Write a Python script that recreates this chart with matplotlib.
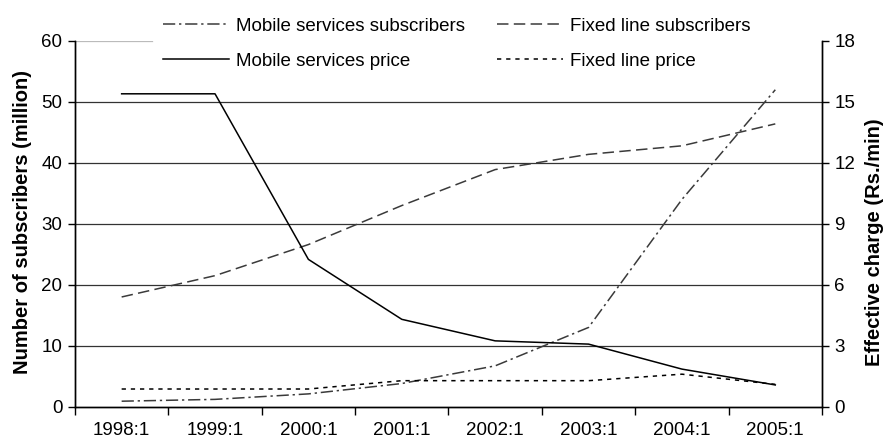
import matplotlib

matplotlib.use("Agg")
import matplotlib.pyplot as plt
import numpy as np

plt.rcParams["font.family"] = ["Liberation Sans", "DejaVu Sans"]

# Data.
periods = ["1998:1", "1999:1", "2000:1", "2001:1", "2002:1", "2003:1", "2004:1", "2005:1"]
mobile_subscribers = [0.9, 1.2, 2.1, 3.8, 6.7, 13.0, 34.0, 52.0]  # million
fixed_subscribers = [18.0, 21.5, 26.6, 33.0, 38.9, 41.4, 42.8, 46.4]  # million
mobile_price = [15.4, 15.4, 7.25, 4.3, 3.24, 3.08, 1.85, 1.07]  # Rs./min
fixed_price = [0.87, 0.87, 0.87, 1.28, 1.28, 1.28, 1.6, 1.1]  # Rs./min

left_ticks = [0, 10, 20, 30, 40, 50, 60]
right_ticks = [0, 3, 6, 9, 12, 15, 18]

FONT = 13.5
LABEL_FONT = 14.5


def main():
    fig = plt.figure(figsize=(8.85, 4.45), dpi=100)
    ax = fig.add_axes([0.0847, 0.0861, 0.8441, 0.8218])
    ax2 = ax.twinx()

    x = np.arange(len(periods)) + 0.5

    # Horizontal grid on the left axis; the top one is mostly hidden by the legend box.
    for v in left_ticks[1:-1]:
        ax.axhline(v, color="#333333", linewidth=0.9, zorder=0)
    ax.axhline(left_ticks[-1], xmin=0, xmax=0.103, color="#bbbbbb", linewidth=0.9, zorder=0)

    l1, = ax.plot(x, mobile_subscribers, color="#3a3a3a", linewidth=1.1,
                  dashes=(8, 2.5, 1.5, 2.5), label="Mobile services subscribers")
    l3, = ax.plot(x, fixed_subscribers, color="#3a3a3a", linewidth=1.1,
                  dashes=(7.5, 3.5), label="Fixed line subscribers")
    l2, = ax2.plot(x, mobile_price, color="black", linewidth=1.1,
                   label="Mobile services price")
    l4, = ax2.plot(x, fixed_price, color="black", linewidth=1.1,
                   dashes=(2.8, 3.2), label="Fixed line price")

    # Axes limits and ticks.
    ax.set_xlim(0, len(periods))
    ax.set_ylim(0, 60)
    ax2.set_ylim(0, 18)
    ax.set_yticks(left_ticks)
    ax2.set_yticks(right_ticks)
    ax.set_xticks(np.arange(len(periods) + 1))
    ax.set_xticklabels([])
    ax.set_xticks(x, minor=True)
    ax.set_xticklabels(periods, minor=True)
    ax.tick_params(axis="x", which="major", direction="out", length=6, width=1)
    ax.tick_params(axis="x", which="minor", length=0, pad=11, labelsize=FONT)
    ax.tick_params(axis="y", direction="out", length=5, width=1, pad=4, labelsize=FONT)
    ax2.tick_params(axis="y", direction="out", length=5, width=1, pad=4, labelsize=FONT)

    for a in (ax, ax2):
        a.spines["top"].set_visible(False)
        for s in ("left", "right", "bottom"):
            a.spines[s].set_linewidth(1.0)

    fig.text(0.025, 0.502, "Number of subscribers (million)", rotation=90,
             ha="center", va="center", fontsize=LABEL_FONT, fontweight="bold")
    fig.text(0.9876, 0.455, "Effective charge (Rs./min)", rotation=90,
             ha="center", va="center", fontsize=LABEL_FONT, fontweight="bold")

    # Legend sits on top of the plot area.
    leg = fig.legend(handles=[l1, l2, l3, l4], ncol=2, loc="upper left",
                     bbox_to_anchor=(0.178, 0.973), fontsize=FONT,
                     frameon=False,
                     handlelength=3.5, handletextpad=0.4, columnspacing=1.7,
                     labelspacing=0.96, borderpad=0.3, borderaxespad=0.0)
    leg.set_zorder(10)

    fig.savefig("out.png", dpi=100)
    plt.close(fig)


if __name__ == "__main__":
    main()
